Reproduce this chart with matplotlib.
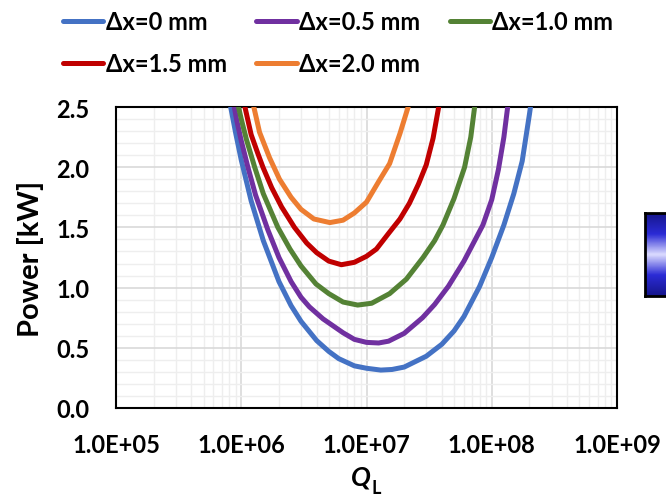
import matplotlib
matplotlib.use("Agg")
import matplotlib.pyplot as plt
import numpy as np
from matplotlib.ticker import LogLocator, MultipleLocator, FixedLocator, FixedFormatter, NullFormatter
from matplotlib.colors import LinearSegmentedColormap

# ---- data ----
labels = ["Δx=0 mm", "Δx=0.5 mm", "Δx=1.0 mm", "Δx=1.5 mm", "Δx=2.0 mm"]
colors = ["#4472C4", "#7030A0", "#548235", "#C00000", "#ED7D31"]

q_dx00 = [7.8e5, 8.2e5, 9.0e5, 1.0e6, 1.2e6, 1.5e6, 2.0e6, 2.5e6, 3.0e6, 4.0e6, 5.0e6,
          6.0e6, 8.0e6, 1.0e7, 1.3e7, 1.6e7, 2.0e7, 3.0e7, 4.0e7, 5.0e7, 6.0e7, 8.0e7,
          1.0e8, 1.25e8, 1.5e8, 1.75e8, 2.0e8, 2.2e8]
p_dx00 = [2.64, 2.51, 2.29, 2.06, 1.72, 1.39, 1.05, 0.85, 0.72, 0.56, 0.47,
          0.41, 0.35, 0.33, 0.315, 0.32, 0.34, 0.43, 0.53, 0.64, 0.76, 1.01,
          1.25, 1.52, 1.78, 2.05, 2.44, 2.75]

q_dx05 = [8.4e5, 8.8e5, 9.2e5, 1.0e6, 1.13e6, 1.3e6, 1.63e6, 2.0e6, 2.5e6, 3.0e6, 3.5e6,
          4.5e6, 6.5e6, 8.0e6, 1.0e7, 1.25e7, 1.5e7, 2.0e7, 2.8e7, 3.5e7, 4.5e7, 6.0e7,
          8.5e7, 1.0e8, 1.13e8, 1.25e8, 1.34e8, 1.42e8]
p_dx05 = [2.72, 2.50, 2.39, 2.22, 2.00, 1.77, 1.48, 1.25, 1.05, 0.92, 0.84,
          0.74, 0.625, 0.57, 0.545, 0.54, 0.555, 0.62, 0.75, 0.86, 1.01, 1.22,
          1.52, 1.73, 1.98, 2.25, 2.50, 2.72]

q_dx10 = [9.0e5, 1.0e6, 1.1e6, 1.28e6, 1.5e6, 1.96e6, 2.45e6, 3.0e6, 3.95e6, 5.0e6, 6.5e6,
          8.5e6, 1.1e7, 1.53e7, 2.08e7, 2.83e7, 3.5e7, 4.08e7, 5.0e7, 6.07e7, 6.8e7,
          7.3e7, 7.8e7]
p_dx10 = [2.61, 2.40, 2.23, 2.00, 1.78, 1.50, 1.32, 1.18, 1.03, 0.95, 0.88,
          0.855, 0.87, 0.95, 1.07, 1.25, 1.39, 1.52, 1.74, 2.00, 2.25,
          2.50, 2.75]

q_dx15 = [1.02e6, 1.07e6, 1.2e6, 1.35e6, 1.49e6, 1.75e6, 2.1e6, 2.66e6, 3.33e6, 4.0e6,
          5.0e6, 6.3e6, 8.0e6, 1.0e7, 1.2e7, 1.5e7, 1.85e7, 2.2e7, 2.6e7, 3.0e7, 3.4e7,
          3.77e7, 4.0e7]
p_dx15 = [2.68, 2.50, 2.27, 2.12, 2.00, 1.83, 1.67, 1.50, 1.37, 1.29,
          1.22, 1.19, 1.21, 1.26, 1.32, 1.45, 1.57, 1.70, 1.86, 2.02, 2.24,
          2.50, 2.70]

q_dx20 = [1.17e6, 1.26e6, 1.4e6, 1.68e6, 2.02e6, 2.5e6, 3.0e6, 3.8e6, 5.1e6, 6.5e6,
          8.0e6, 1.0e7, 1.25e7, 1.53e7, 1.85e7, 2.15e7, 2.3e7]
p_dx20 = [2.65, 2.50, 2.29, 2.08, 1.90, 1.75, 1.65, 1.57, 1.54, 1.56,
          1.62, 1.71, 1.88, 2.03, 2.28, 2.50, 2.65]

series_q = [q_dx00, q_dx05, q_dx10, q_dx15, q_dx20]
series_p = [p_dx00, p_dx05, p_dx10, p_dx15, p_dx20]

x_ticks = [1e5, 1e6, 1e7, 1e8, 1e9]
x_tick_labels = ["1.0E+05", "1.0E+06", "1.0E+07", "1.0E+08", "1.0E+09"]
y_ticks = [0.0, 0.5, 1.0, 1.5, 2.0, 2.5]
y_tick_labels = ["0.0", "0.5", "1.0", "1.5", "2.0", "2.5"]

# ---- figure ----
FONT = ["Lato", "DejaVu Sans"]
plt.rcParams["font.family"] = FONT
plt.rcParams["font.weight"] = "bold"

W, H = 666, 502
fig = plt.figure(figsize=(W / 100, H / 100), dpi=100)
ax = fig.add_axes([116 / W, (H - 409) / H, (617 - 116) / W, (409 - 108) / H])

lines = []
for q, p, c, lab in zip(series_q, series_p, colors, labels):
    ln, = ax.plot(q, p, color=c, lw=3.6, label=lab, solid_capstyle="round",
                  solid_joinstyle="round", zorder=3)
    lines.append(ln)

ax.set_xscale("log")
ax.set_xlim(1e5, 1e9)
ax.set_ylim(0, 2.5)

ax.xaxis.set_major_locator(FixedLocator(x_ticks))
ax.xaxis.set_major_formatter(FixedFormatter(x_tick_labels))
ax.xaxis.set_minor_locator(LogLocator(base=10, subs=np.arange(2, 10)))
ax.xaxis.set_minor_formatter(NullFormatter())
ax.yaxis.set_major_locator(FixedLocator(y_ticks))
ax.yaxis.set_major_formatter(FixedFormatter(y_tick_labels))
ax.yaxis.set_minor_locator(MultipleLocator(0.1))

ax.grid(which="major", color="#d9d9d9", lw=1.2, zorder=0)
ax.grid(which="minor", color="#eeeeee", lw=1.0, zorder=0)
ax.set_axisbelow(True)

ax.tick_params(which="both", length=0)
ax.tick_params(axis="x", labelsize=17, pad=18)
ax.tick_params(axis="y", labelsize=17, pad=19)
for t in ax.get_xticklabels() + ax.get_yticklabels():
    t.set_fontweight("bold")

for s in ax.spines.values():
    s.set_color("black")
    s.set_linewidth(1.5)

ax.set_ylabel("Power [kW]", fontsize=21, fontweight="bold", labelpad=9)
fig.text(371 / W, 1 - 486 / H, "Q", fontsize=19, fontweight="bold", style="italic",
         ha="right", va="baseline")
fig.text(371 / W, 1 - 494 / H, "L", fontsize=13, fontweight="bold", ha="left", va="baseline")

order = [0, 3, 1, 4, 2]
fig.legend([lines[i] for i in order], [labels[i] for i in order], ncol=3,
           loc="upper left", bbox_to_anchor=(42 / W, 1 + 10 / H), frameon=False,
           handlelength=1.7, handletextpad=0.1, columnspacing=1.25,
           labelspacing=0.79, prop={"weight": "bold", "size": 17})

# partial colour bar at right edge
cax = fig.add_axes([645 / W, 1 - 297 / H, 30 / W, (297 - 214) / H])
cmap = LinearSegmentedColormap.from_list(
    "bw", ["#16168c", "#2b2bd6", "#dcdcff", "#2b2bd6", "#16168c"])
cax.imshow(np.linspace(0, 1, 100).reshape(-1, 1), aspect="auto", cmap=cmap)
cax.set_xticks([])
cax.set_yticks([])
for s in cax.spines.values():
    s.set_color("black")
    s.set_linewidth(2)

fig.savefig("out.png", dpi=100)
